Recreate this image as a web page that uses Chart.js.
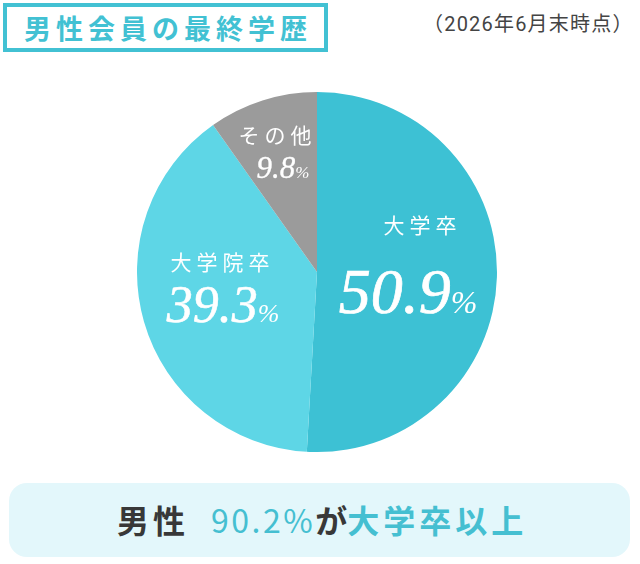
<!DOCTYPE html>
<html lang="ja">
<head>
<meta charset="utf-8">
<script src="https://cdn.jsdelivr.net/npm/chart.js@4"></script>
<style>
  html, body { margin: 0; padding: 0; background: #fff; }
  body { width: 640px; height: 564px; position: relative; overflow: hidden;
         font-family: "Noto Sans CJK JP", "Noto Sans", sans-serif; }
  .titulo { position: absolute; left: 3px; top: 3px; width: 317px; height: 41px;
            border: 4px solid #42c1d3; color: #42c1d3; font-weight: 700;
            font-size: 27px; letter-spacing: 5px; line-height: 41px; text-indent: 5px;
            text-align: center; }
  .data { position: absolute; left: 423px; top: 8px; font-size: 20px; color: #444;
          font-family: "Roboto", "Noto Sans CJK JP", sans-serif; letter-spacing: 1.2px; }
  #pie-wrap { position: absolute; left: 137px; top: 92px; width: 360px; height: 360px; }
  .resumo { position: absolute; left: 9px; top: 483px; width: 621px; height: 74px;
            background: #e3f7fb; border-radius: 18px; line-height: 74px;
            font-size: 32px; font-weight: 700; color: #383838; white-space: nowrap; }
  .resumo .linha { position: absolute; left: 108px; top: -1px; }
  .resumo .sexo { letter-spacing: 4px; margin-right: 22px; }
  .resumo .azul { color: #45bfd1; font-weight: 700; letter-spacing: 4px; }
  .resumo .num { color: #45bfd1; font-weight: 400; letter-spacing: 2.5px; }
</style>
</head>
<body>
<div class="titulo">男性会員の最終学歴</div>
<div class="data">（2026年6月末時点）</div>
<div id="pie-wrap"><canvas id="grafico" width="360" height="360"></canvas></div>
<div class="resumo"><div class="linha"><span class="sexo">男性</span><span class="num">90.2%</span>が<span class="azul">大学卒以上</span></div></div>
<script>
// dados do gráfico
const categorias = ['大学卒', '大学院卒', 'その他'];
const valores = [50.9, 39.3, 9.8];
const cores = ['#3dc1d4', '#5ed6e6', '#9b9b9b'];

// rótulos dentro das fatias (deslocamento em px a partir do centro)
const posRotulos = [
  { nome: [103, -47], pct: [91, 41], tamNome: 21, tamNum: 64, tamPct: 32 },
  { nome: [-97, -10], pct: [-94, 50], tamNome: 21, tamNum: 52, tamPct: 26 },
  { nome: [-42, -137], pct: [-34, -94], tamNome: 21, tamNum: 31, tamPct: 17 }
];

const pluginRotulos = {
  id: 'rotulos',
  afterDatasetsDraw(chart) {
    const ctx = chart.ctx;
    const meta = chart.getDatasetMeta(0);
    meta.data.forEach((arc, i) => {
      const p = posRotulos[i];
      const cx = arc.x, cy = arc.y;
      ctx.save();
      ctx.fillStyle = '#fff';
      ctx.strokeStyle = '#fff';
      ctx.textBaseline = 'middle';
      ctx.textAlign = 'center';
      ctx.font = `400 ${p.tamNome}px "Noto Sans CJK JP", sans-serif`;
      ctx.letterSpacing = '5px';
      ctx.fillText(categorias[i], cx + p.nome[0] + 2.5, cy + p.nome[1]);
      ctx.letterSpacing = '0px';

      // percentual em serifa itálica, "%" menor
      ctx.textBaseline = 'alphabetic';
      ctx.textAlign = 'left';
      const num = valores[i].toFixed(1);
      const fNum = `italic 400 ${p.tamNum}px "Liberation Serif", serif`;
      const fPct = `italic 400 ${p.tamPct}px "Liberation Serif", serif`;
      ctx.font = fNum;
      const wNum = ctx.measureText(num).width;
      ctx.font = fPct;
      const wPct = ctx.measureText('%').width;
      const x0 = cx + p.pct[0] - (wNum + wPct) / 2;
      const y0 = cy + p.pct[1];
      ctx.lineWidth = p.tamNum / 90;
      ctx.font = fNum;
      ctx.fillText(num, x0, y0);
      ctx.strokeText(num, x0, y0);
      ctx.font = fPct;
      ctx.fillText('%', x0 + wNum, y0);
      ctx.restore();
    });
  }
};

new Chart(document.getElementById('grafico'), {
  type: 'pie',
  data: {
    labels: categorias,
    datasets: [{
      data: valores,
      backgroundColor: cores,
      borderWidth: 0
    }]
  },
  options: {
    responsive: false,
    animation: false,
    layout: { padding: 0 },
    plugins: {
      legend: { display: false },
      tooltip: { enabled: false }
    }
  },
  plugins: [pluginRotulos]
});
</script>
</body>
</html>
